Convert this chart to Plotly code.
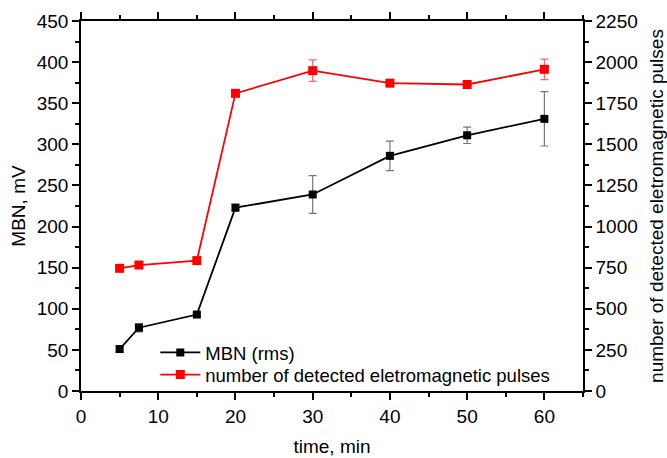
import plotly.graph_objects as go

time_min = [5, 7.5, 15, 20, 30, 40, 50, 60]
mbn_rms = [51, 77, 93, 223, 239, 286, 311, 331]
mbn_err = [4, 5, 2, 4, 23, 18, 10, 33]
pulses = [746, 766, 793, 1810, 1948, 1872, 1864, 1956]
pulses_err = [10, 10, 8, 12, 65, 10, 15, 62]

font_family = "Liberation Sans, Arial, sans-serif"

fig = go.Figure()
fig.add_trace(go.Scatter(
    x=time_min, y=mbn_rms, name="MBN (rms)", mode="lines+markers",
    line=dict(color="black", width=1.8),
    marker=dict(symbol="square", size=8, color="black"),
    error_y=dict(type="data", array=mbn_err, color="#777777", thickness=1.2, width=4),
    yaxis="y", legend="legend",
))
fig.add_trace(go.Scatter(
    x=time_min, y=pulses, name="number of detected eletromagnetic pulses", mode="lines+markers",
    line=dict(color="#ff0000", width=1.8),
    marker=dict(symbol="square", size=9, color="#ff0000"),
    error_y=dict(type="data", array=pulses_err, color="#ff6666", thickness=1.2, width=4),
    yaxis="y2", legend="legend2",
))

axis_common = dict(
    showline=True, linecolor="black", linewidth=1.5,
    ticks="outside", ticklen=7, tickwidth=1.5, tickcolor="black",
    showgrid=False, zeroline=False, automargin=False,
    tickfont=dict(size=19, color="black", family=font_family),
)

legend_common = dict(x=0.148, xanchor="left", yanchor="middle",
                     bgcolor="rgba(0,0,0,0)", font=dict(size=18.5), itemwidth=40)

fig.update_layout(
    width=667, height=458,
    margin=dict(l=81, r=84, t=21, b=67),
    paper_bgcolor="white", plot_bgcolor="white",
    font=dict(family=font_family, color="black", size=19),
    showlegend=True,
    legend=dict(y=0.103, **legend_common),
    legend2=dict(y=0.043, **legend_common),
    xaxis=dict(range=[0, 65], dtick=10, tick0=0, mirror="ticks",
               title=dict(text="time, min", font=dict(size=19), standoff=14),
               minor=dict(dtick=5, ticklen=4, tickcolor="black", ticks="outside", tickwidth=1.5),
               **axis_common),
    yaxis=dict(range=[0, 450], dtick=50, tick0=0,
               title=dict(text="MBN, mV", font=dict(size=19), standoff=6),
               minor=dict(dtick=25, ticklen=4, tickcolor="black", ticks="outside", tickwidth=1.5),
               **axis_common),
    yaxis2=dict(range=[0, 2250], dtick=250, tick0=0, overlaying="y", side="right",
                title=dict(text="number of detected eletromagnetic pulses", font=dict(size=19), standoff=17),
                minor=dict(dtick=125, ticklen=4, tickcolor="black", ticks="outside", tickwidth=1.5),
                **axis_common),
)

fig.write_html("out.html")
